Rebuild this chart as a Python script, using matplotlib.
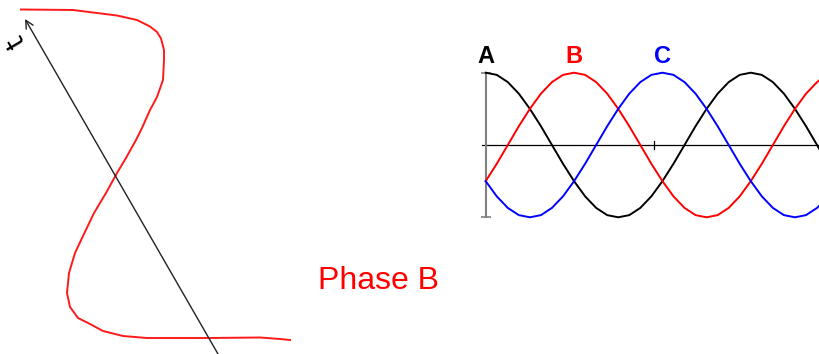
import matplotlib.pyplot as plt

plt.rcParams['font.family'] = ['Liberation Sans', 'DejaVu Sans']

# left sketch: phase B waveform drawn along a tilted time axis (picture coords)
sketch_x = [21, 73, 93, 117, 137, 150, 157, 161, 164, 164, 163, 157, 150, 142,
            136, 126, 117, 106, 94, 83, 75, 69, 67, 70, 78, 90, 103, 123, 147,
            210, 260, 280, 290]
sketch_y = [9.5, 10, 12.5, 15.5, 20, 26.5, 32, 38.5, 50, 60, 80, 97, 110, 128,
            140, 158, 173, 193, 213, 236, 253, 273, 293, 307, 318, 324, 331,
            336, 338, 338, 337.5, 339, 340]
t_axis_start = (218, 354)
t_axis_end = (25, 19)

# right chart: three phases, sampled every 15 degrees
angle = [0, 15, 30, 45, 60, 75, 90, 105, 120, 135, 150, 165, 180, 195, 210,
         225, 240, 255, 270, 285, 300, 315, 330, 345, 360, 375, 390, 405,
         420, 435, 450, 455]
phase_a = [1.0, .97, .87, .71, .5, .26, 0, -.26, -.5, -.71, -.87, -.97, -1.0,
           -.97, -.87, -.71, -.5, -.26, 0, .26, .5, .71, .87, .97, 1.0, .97,
           .87, .71, .5, .26, 0, -.09]
phase_b = [-.5, -.26, 0, .26, .5, .71, .87, .97, 1.0, .97, .87, .71, .5, .26,
           0, -.26, -.5, -.71, -.87, -.97, -1.0, -.97, -.87, -.71, -.5, -.26,
           0, .26, .5, .71, .87, .91]
phase_c = [-.5, -.71, -.87, -.97, -1.0, -.97, -.87, -.71, -.5, -.26, 0, .26,
           .5, .71, .87, .97, 1.0, .97, .87, .71, .5, .26, 0, -.26, -.5, -.71,
           -.87, -.97, -1.0, -.97, -.87, -.82]
phase_names = ['A', 'B', 'C']
phase_peaks = [0, 120, 240]
phase_colors = ['black', 'red', 'blue']

W, H = 820, 354
fig = plt.figure(figsize=(W / 100, H / 100), dpi=100)

# ---- left sketch
ax1 = fig.add_axes([0, 0, 300 / W, 1])
ax1.set_xlim(0, 300)
ax1.set_ylim(H, 0)
ax1.axis('off')
ax1.plot(sketch_x, sketch_y, color='#ff1a1a', lw=1.4, clip_on=False)
ax1.annotate('', xy=t_axis_end, xytext=t_axis_start,
             arrowprops=dict(arrowstyle='->', lw=1.0, color='#222222',
                             mutation_scale=14, shrinkA=0, shrinkB=0))
ax1.text(17, 41, 't', rotation=120, fontsize=19, ha='center', va='center',
         color='black', family=['DejaVu Sans'])

# ---- right chart
top, bottom = 72.7, 217.3
left, right = 485.7, 820
ax2 = fig.add_axes([left / W, (H - bottom) / H, (right - left) / W, (bottom - top) / H])
ax2.set_xlim(0, 454)
ax2.set_ylim(-1, 1)
ax2.axis('off')

ax2.axhline(0, xmin=-0.012, xmax=1, color='black', lw=0.9, clip_on=False)
ax2.plot([229, 229], [-0.05, 0.05], color='black', lw=0.9)
ax2.plot([0, 0], [-1, 1], color='gray', lw=1.5, marker='_', markersize=7,
         mew=1.2, clip_on=False)

for vals, c in zip([phase_a, phase_b, phase_c], phase_colors):
    ax2.plot(angle, vals, color=c, lw=1.4, clip_on=False)

for name, x, c in zip(phase_names, phase_peaks, phase_colors):
    ax2.text(x, 1.13, name, color=c, fontsize=17, fontweight='bold',
             ha='center', va='baseline', clip_on=False)

fig.text(318 / W, (H - 289.3) / H, 'Phase B', color='red', fontsize=23,
         ha='left', va='baseline')

fig.savefig('out.png', dpi=100)
